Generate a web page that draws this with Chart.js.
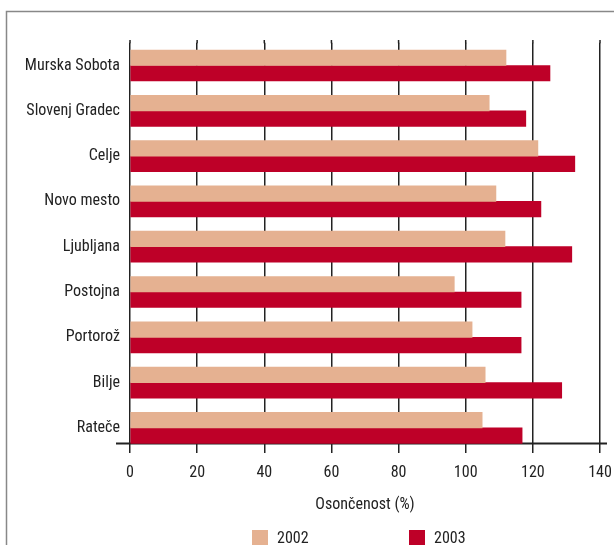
<!DOCTYPE html>
<html><head><meta charset="utf-8">
<style>html,body{margin:0;padding:0;background:#fff}#wrap{width:614px;height:545px}</style>
</head><body><div id="wrap"><canvas id="c" width="614" height="545"></canvas></div>
<script src="https://cdn.jsdelivr.net/npm/chart.js@4"></script>
<script>
const categories = ["Murska Sobota","Slovenj Gradec","Celje","Novo mesto","Ljubljana","Postojna","Portorož","Bilje","Rateče"];
const values2002 = [112.0,107.0,121.5,109.0,111.7,96.6,101.9,105.8,104.9];
const values2003 = [125.1,117.9,132.5,122.4,131.6,116.5,116.5,128.6,116.8];
const seriesLabels = ["2002","2003"];
const xTicks = [0,20,40,60,80,100,120,140];
const axisTitle = "Osončenost (%)";

const FONT = "'Roboto Condensed','DejaVu Sans Condensed',sans-serif";
const FSIZE = 16;
const COL2002 = "#E5B191";
const COL2003 = "#BE0028";
const TEXT = "#222222";
Chart.defaults.font.family = FONT;
Chart.defaults.font.size = FSIZE;
Chart.defaults.color = TEXT;

const decor = {
  id: 'decor',
  beforeDraw(chart) {
    const ctx = chart.ctx;
    ctx.save();
    ctx.fillStyle = '#fff';
    ctx.fillRect(0, 0, chart.width, chart.height);
    ctx.strokeStyle = '#888';
    ctx.lineWidth = 1.5;
    ctx.beginPath();
    ctx.moveTo(6.5, chart.height + 2);
    ctx.lineTo(6.5, 11.5);
    ctx.lineTo(chart.width + 2, 11.5);
    ctx.stroke();
    ctx.restore();
  },
  beforeDatasetsDraw(chart) {
    const ctx = chart.ctx, xs = chart.scales.x, ys = chart.scales.y;
    const area = chart.chartArea;
    ctx.save();
    ctx.strokeStyle = '#222';
    ctx.lineWidth = 1.5;
    xTicks.forEach(v => {
      const px = xs.getPixelForValue(v);
      ctx.beginPath();
      ctx.moveTo(px, 40);
      ctx.lineTo(px, area.top + 0.5);
      ctx.stroke();
    });
    const yAxis = ys.getPixelForValue(categories.length - 1) + 15.5;
    ctx.lineWidth = 2;
    ctx.beginPath();
    ctx.moveTo(xs.getPixelForValue(0) - 14, yAxis);
    ctx.lineTo(xs.getPixelForValue(140) + 7, yAxis);
    ctx.stroke();
    ctx.restore();
  },
  afterDraw(chart) {
    const ctx = chart.ctx, area = chart.chartArea;
    const cx = (area.left + area.right) / 2;
    const items = [[seriesLabels[0], COL2002, cx - 113], [seriesLabels[1], COL2003, cx + 44]];
    ctx.save();
    ctx.font = FSIZE + "px " + FONT;
    ctx.textBaseline = 'middle';
    ctx.textAlign = 'left';
    items.forEach(([t, c, x]) => {
      ctx.fillStyle = c;
      ctx.fillRect(x, 530, 16, 16);
      ctx.fillStyle = TEXT;
      ctx.fillText(t, x + 25, 538.5);
    });
    ctx.restore();
  }
};

new Chart(document.getElementById('c'), {
  type: 'bar',
  data: {
    labels: categories,
    datasets: [
      { label: seriesLabels[0], data: values2002, backgroundColor: COL2002, barThickness: 15.5, borderWidth: 0 },
      { label: seriesLabels[1], data: values2003, backgroundColor: COL2003, barThickness: 15.5, borderWidth: 0 }
    ]
  },
  options: {
    indexAxis: 'y',
    responsive: false,
    animation: false,
    devicePixelRatio: 1,
    layout: { padding: { top: 42.85, right: 14, left: 0, bottom: 0 } },
    plugins: { legend: { display: false }, tooltip: { enabled: false } },
    scales: {
      x: {
        type: 'linear', min: 0, max: 140,
        afterBuildTicks: s => { s.ticks = xTicks.map(v => ({ value: v })); },
        ticks: { color: TEXT, padding: 10, font: { size: FSIZE } },
        grid: { color: '#222', lineWidth: 1.5, tickLength: 2.45, drawOnChartArea: true },
        border: { display: false },
        title: { display: true, text: axisTitle, color: TEXT, font: { size: FSIZE }, padding: { top: 0, bottom: 30 } },
        afterFit: s => { s.height = 94.45; s.paddingRight = 0; s.paddingLeft = 0; }
      },
      y: {
        grid: { display: false, drawTicks: false },
        border: { display: false },
        ticks: { color: TEXT, padding: 10, font: { size: FSIZE } },
        afterFit: s => { s.width = 130; s.paddingTop = 0; s.paddingBottom = 0; }
      }
    }
  },
  plugins: [decor]
});
</script>
</body></html>
